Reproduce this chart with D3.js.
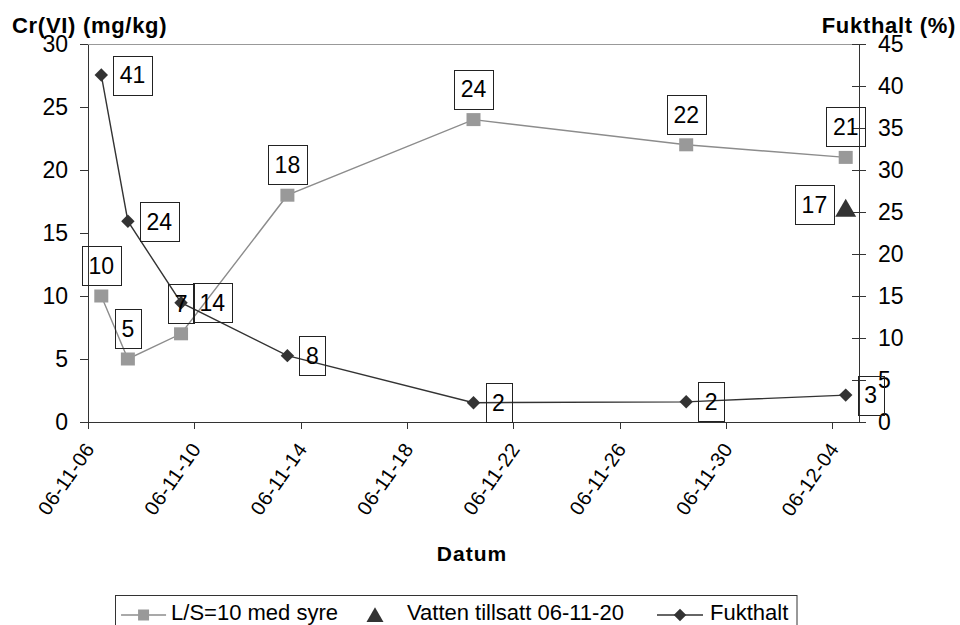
<!DOCTYPE html>
<html lang="sv">
<head>
<meta charset="UTF-8">
<title>Cr(VI) och fukthalt</title>
<style>
    body { margin: 0; background: #fff; }
    svg { display: block; font-family: "Liberation Sans", Arial, sans-serif; }
    .axis path, .axis line { stroke: #333; shape-rendering: crispEdges; }
    .axis text { fill: #000; }
</style>
</head>
<body>
<div id="chart"></div>
<script src="https://d3js.org/d3.v7.min.js"></script>
<script>
// provdatum (med klockslag) och värden
const dates      = ["2006-11-06T12:00", "2006-11-07T12:00", "2006-11-09T12:00", "2006-11-13T12:00",
                    "2006-11-20T12:00", "2006-11-28T12:00", "2006-12-04T12:00"];
const crValues   = [10, 5, 7, 18, 24, 22, 21];             // L/S=10 med syre, mg/kg
const fuktValues = [41.3, 23.9, 14.2, 7.9, 2.3, 2.4, 3.2]; // Fukthalt, %
const vattenDates  = ["2006-12-04T12:00"];
const vattenValues = [17];

const xTicks     = ["2006-11-06", "2006-11-10", "2006-11-14", "2006-11-18",
                    "2006-11-22", "2006-11-26", "2006-11-30", "2006-12-04"];
const xDomain    = ["2006-11-06", "2006-12-05"];
const leftTicks  = [0, 5, 10, 15, 20, 25, 30];
const rightTicks = [0, 5, 10, 15, 20, 25, 30, 35, 40, 45];
const legendNames = ["L/S=10 med syre", "Vatten tillsatt 06-11-20", "Fukthalt"];

const W = 960, H = 625;
const m = {left: 88, right: 859, top: 44, bottom: 422};

const parse = d3.isoParse;
const fmt = d3.timeFormat("%y-%m-%d");

const x  = d3.scaleTime().domain(xDomain.map(parse)).range([m.left, m.right]);
const yL = d3.scaleLinear().domain([0, 30]).range([m.bottom, m.top]);
const yR = d3.scaleLinear().domain([0, 45]).range([m.bottom, m.top]);

const svg = d3.select("#chart").append("svg").attr("width", W).attr("height", H);

// ramlinje upptill
svg.append("line")
    .attr("x1", m.left).attr("x2", m.right).attr("y1", m.top + 0.5).attr("y2", m.top + 0.5)
    .attr("stroke", "#999");

// vänster axel
const gl = svg.append("g").attr("class", "axis").attr("transform", `translate(${m.left},0)`)
    .call(d3.axisLeft(yL).tickValues(leftTicks).tickSize(8).tickSizeOuter(0).tickPadding(12));
gl.selectAll("text").style("font-size", "23px");

// höger axel, streck på båda sidor
const gr = svg.append("g").attr("class", "axis").attr("transform", `translate(${m.right},0)`)
    .call(d3.axisRight(yR).tickValues(rightTicks).tickSize(7).tickSizeOuter(0).tickPadding(12));
gr.selectAll(".tick line").attr("x1", -7);
gr.selectAll("text").style("font-size", "23px");

// x-axel
const gx = svg.append("g").attr("class", "axis").attr("transform", `translate(0,${m.bottom})`)
    .call(d3.axisBottom(x).tickValues(xTicks.map(parse)).tickFormat(fmt).tickSize(7).tickSizeOuter(0));
gx.selectAll("text")
    .style("font-size", "20px")
    .style("letter-spacing", "0.5px")
    .attr("text-anchor", "end")
    .attr("dy", null)
    .attr("y", 0)
    .attr("transform", "translate(7,27) rotate(-55)");

// axeltitlar
svg.append("text").attr("x", 12).attr("y", 33)
    .style("font-size", "22px").style("font-weight", "bold").style("letter-spacing", "0.7px")
    .text("Cr(VI) (mg/kg)");
svg.append("text").attr("x", 956).attr("y", 33).attr("text-anchor", "end")
    .style("font-size", "22px").style("font-weight", "bold").style("letter-spacing", "0.7px")
    .text("Fukthalt (%)");
svg.append("text").attr("x", 472).attr("y", 561).attr("text-anchor", "middle")
    .style("font-size", "21px").style("font-weight", "bold").style("letter-spacing", "1px")
    .text("Datum");

const cr   = dates.map((d, i) => ({d: parse(d), v: crValues[i]}));
const fukt = dates.map((d, i) => ({d: parse(d), v: fuktValues[i]}));
const vat  = vattenDates.map((d, i) => ({d: parse(d), v: vattenValues[i]}));

// L/S=10 med syre
svg.append("path").datum(cr)
    .attr("fill", "none").attr("stroke", "#8c8c8c").attr("stroke-width", 1.4)
    .attr("d", d3.line().x(p => x(p.d)).y(p => yL(p.v)));
svg.selectAll(".sq").data(cr).join("rect").attr("class", "sq")
    .attr("x", p => x(p.d) - 7).attr("y", p => yL(p.v) - 6.5)
    .attr("width", 14).attr("height", 13).attr("fill", "#999");

// Fukthalt
svg.append("path").datum(fukt)
    .attr("fill", "none").attr("stroke", "#333").attr("stroke-width", 1.4)
    .attr("d", d3.line().x(p => x(p.d)).y(p => yR(p.v)));
const diamond = d3.symbol().type(d3.symbolDiamond2).size(115);
svg.selectAll(".dm").data(fukt).join("path").attr("class", "dm")
    .attr("d", diamond)
    .attr("transform", p => `translate(${x(p.d)},${yR(p.v)})`)
    .attr("fill", "#333");

// Vatten tillsatt
const tri = d3.symbol().type(d3.symbolTriangle).size(190);
svg.selectAll(".tr").data(vat).join("path").attr("class", "tr")
    .attr("d", tri)
    .attr("transform", p => `translate(${x(p.d)},${yL(p.v) + 3})`)
    .attr("fill", "#333");

// dataetiketter med ram (genomskinliga)
function label(cx, cy, txt, anchor) {
    const g = svg.append("g");
    const t = g.append("text").style("font-size", "23px")
        .attr("text-anchor", "middle").attr("dy", "0.36em").text(txt);
    const w = t.node().getComputedTextLength() + 13, h = 39;
    let bx, by;
    if (anchor === "above") { bx = cx - w / 2; by = cy - 11 - h; }
    else if (anchor === "right") { bx = cx + 12; by = cy - h / 2; }
    else { bx = cx - 12 - w; by = cy - h / 2 - 3; }
    t.attr("x", bx + w / 2).attr("y", by + h / 2);
    g.insert("rect", "text")
        .attr("x", Math.round(bx) + 0.5).attr("y", Math.round(by) + 0.5)
        .attr("width", Math.round(w)).attr("height", h)
        .attr("fill", "none").attr("stroke", "#222");
}
cr.forEach(p => label(x(p.d), yL(p.v), d3.format(".0f")(p.v), "above"));
fukt.forEach(p => label(x(p.d), yR(p.v), d3.format(".0f")(p.v), "right"));
vat.forEach(p => label(x(p.d), yL(p.v), d3.format(".0f")(p.v), "left"));

// förklaring
const lg = svg.append("g");
const ly = 615;
const t1 = lg.append("text").attr("x", 338).attr("y", 620).attr("text-anchor", "end")
    .style("font-size", "22px").text(legendNames[0]);
lg.append("text").attr("x", 407).attr("y", 620).style("font-size", "22px").text(legendNames[1]);
lg.append("text").attr("x", 710).attr("y", 620).style("font-size", "22px").text(legendNames[2]);
const s1 = 338 - t1.node().getComputedTextLength();

lg.append("line").attr("x1", s1 - 50).attr("x2", s1 - 5).attr("y1", ly).attr("y2", ly)
    .attr("stroke", "#8c8c8c").attr("stroke-width", 1.4);
lg.append("rect").attr("x", s1 - 33).attr("y", ly - 5.5).attr("width", 11).attr("height", 11).attr("fill", "#999");
lg.append("path").attr("d", d3.symbol().type(d3.symbolTriangle).size(125))
    .attr("transform", `translate(375,${ly + 2})`).attr("fill", "#333");
lg.append("line").attr("x1", 657).attr("x2", 703).attr("y1", ly).attr("y2", ly)
    .attr("stroke", "#333").attr("stroke-width", 1.4);
lg.append("path").attr("d", d3.symbol().type(d3.symbolDiamond2).size(100))
    .attr("transform", `translate(680,${ly})`).attr("fill", "#333");
const bx0 = Math.round(s1 - 56) + 0.5;
lg.insert("rect", ":first-child").attr("x", bx0).attr("y", 595.5)
    .attr("width", 797 - bx0).attr("height", 45)
    .attr("fill", "none").attr("stroke", "#333");
</script>
</body>
</html>
